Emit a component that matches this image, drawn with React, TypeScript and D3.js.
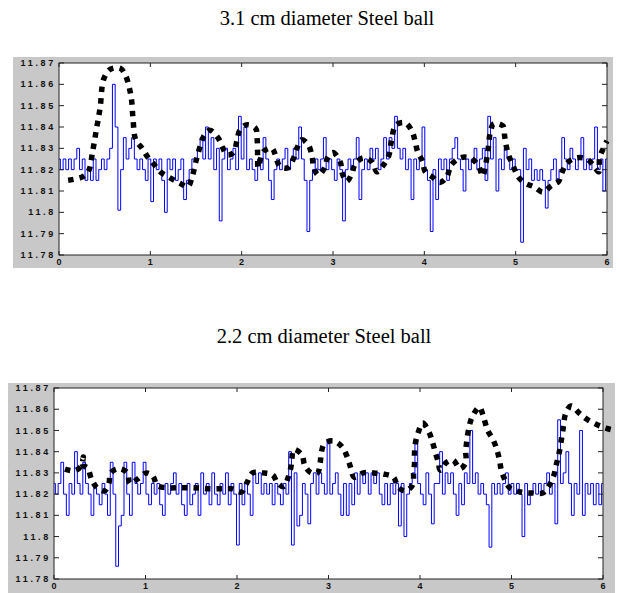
import React from "react";
import * as d3 from "d3";

const xTicks = [0, 1, 2, 3, 4, 5, 6];
const yTicks = [11.78, 11.79, 11.8, 11.81, 11.82, 11.83, 11.84, 11.85, 11.86, 11.87];

const titleTop = "3.1 cm diameter Steel ball";
const titleBottom = "2.2 cm diameter Steel ball";

// blue trace, 3.1 cm ball: 201 samples spread over 0..6 s
const signalTop = [
  11.825, 11.82, 11.825, 11.82, 11.825, 11.82, 11.825, 11.83, 11.82, 11.825,
  11.815, 11.82, 11.815, 11.825, 11.815, 11.82, 11.825, 11.82, 11.825, 11.83,
  11.86, 11.84, 11.801, 11.82, 11.835, 11.825, 11.83, 11.835, 11.825, 11.82,
  11.825, 11.82, 11.815, 11.825, 11.805, 11.825, 11.82, 11.825, 11.815, 11.8,
  11.825, 11.82, 11.825, 11.815, 11.82, 11.825, 11.806, 11.815, 11.82, 11.825,
  11.825, 11.83, 11.835, 11.825, 11.84, 11.825, 11.835, 11.82, 11.83, 11.796,
  11.825, 11.83, 11.82, 11.825, 11.83, 11.82, 11.845, 11.825, 11.84, 11.82,
  11.825, 11.82, 11.815, 11.825, 11.82, 11.835, 11.825, 11.815, 11.806, 11.82,
  11.825, 11.82, 11.825, 11.83, 11.82, 11.825, 11.83, 11.825, 11.84, 11.825,
  11.815, 11.791, 11.815, 11.82, 11.825, 11.82, 11.825, 11.835, 11.82, 11.825,
  11.82, 11.815, 11.825, 11.82, 11.796, 11.82, 11.825, 11.82, 11.825, 11.835,
  11.806, 11.82, 11.825, 11.82, 11.83, 11.825, 11.83, 11.82, 11.825, 11.835,
  11.825, 11.835, 11.83, 11.845, 11.83, 11.825, 11.83, 11.82, 11.825, 11.806,
  11.825, 11.82, 11.825, 11.84, 11.82, 11.815, 11.791, 11.82, 11.806, 11.825,
  11.82, 11.825, 11.815, 11.825, 11.83, 11.835, 11.825, 11.82, 11.81, 11.825,
  11.82, 11.825, 11.83, 11.82, 11.825, 11.83, 11.815, 11.845, 11.825, 11.835,
  11.81, 11.825, 11.82, 11.83, 11.825, 11.82, 11.825, 11.82, 11.82, 11.786,
  11.83, 11.82, 11.825, 11.815, 11.82, 11.815, 11.82, 11.815, 11.802, 11.815,
  11.82, 11.825, 11.815, 11.82, 11.835, 11.825, 11.82, 11.83, 11.825, 11.82,
  11.825, 11.835, 11.82, 11.825, 11.82, 11.825, 11.84, 11.82, 11.825, 11.81, 11.825,
];

// dotted fit, 3.1 cm ball: [time, value]
const fitTop: [number, number][] = [
  [0.1, 11.815], [0.25, 11.8165], [0.32, 11.819], [0.37, 11.829], [0.41, 11.839],
  [0.45, 11.849], [0.49, 11.8625], [0.56, 11.867], [0.67, 11.8675], [0.73, 11.864],
  [0.79, 11.854], [0.81, 11.844], [0.84, 11.834], [0.91, 11.83], [0.97, 11.826],
  [1.03, 11.823], [1.11, 11.819], [1.22, 11.816], [1.33, 11.8135], [1.41, 11.812],
  [1.46, 11.817], [1.5, 11.824], [1.55, 11.8315], [1.59, 11.836], [1.65, 11.8385],
  [1.74, 11.835], [1.79, 11.8305], [1.84, 11.827], [1.91, 11.828], [1.95, 11.834],
  [1.98, 11.8385], [2.05, 11.841], [2.15, 11.8395], [2.17, 11.834], [2.175, 11.8255],
  [2.18, 11.821], [2.24, 11.8285], [2.33, 11.83], [2.42, 11.8215], [2.51, 11.821],
  [2.57, 11.8255], [2.61, 11.8305], [2.66, 11.834], [2.73, 11.8315], [2.77, 11.8265],
  [2.79, 11.821], [2.84, 11.8175], [2.91, 11.821], [2.94, 11.8255], [3.0, 11.828],
  [3.08, 11.8235], [3.1, 11.8185], [3.15, 11.8145], [3.21, 11.8185], [3.24, 11.8225],
  [3.33, 11.8255], [3.43, 11.8235], [3.48, 11.819], [3.55, 11.822], [3.61, 11.8265],
  [3.64, 11.8335], [3.69, 11.841], [3.79, 11.842], [3.87, 11.8375], [3.9, 11.833],
  [3.93, 11.828], [3.98, 11.824], [4.01, 11.819], [4.09, 11.8165], [4.17, 11.814],
  [4.25, 11.817], [4.29, 11.822], [4.39, 11.8255], [4.5, 11.8255], [4.59, 11.822],
  [4.64, 11.817], [4.67, 11.822], [4.7, 11.83], [4.72, 11.837], [4.76, 11.8415],
  [4.86, 11.8405], [4.88, 11.8355], [4.9, 11.8305], [4.93, 11.826], [4.98, 11.821],
  [5.03, 11.8165], [5.11, 11.8135], [5.2, 11.812], [5.3, 11.8095], [5.39, 11.8125],
  [5.47, 11.8145], [5.51, 11.819], [5.56, 11.823], [5.66, 11.8255], [5.78, 11.825],
  [5.86, 11.8215], [5.91, 11.819], [5.92, 11.8255], [5.96, 11.83], [6.0, 11.8335],
];

// blue trace, 2.2 cm ball: 201 samples spread over 0..6 s
const signalBottom = [
  11.825, 11.82, 11.825, 11.835, 11.82, 11.81, 11.825, 11.82, 11.84, 11.825,
  11.82, 11.835, 11.825, 11.82, 11.81, 11.825, 11.82, 11.815, 11.825, 11.82,
  11.81, 11.835, 11.82, 11.786, 11.805, 11.81, 11.835, 11.82, 11.81, 11.835,
  11.825, 11.82, 11.825, 11.835, 11.82, 11.815, 11.825, 11.82, 11.825, 11.815,
  11.81, 11.825, 11.82, 11.825, 11.83, 11.82, 11.825, 11.815, 11.81, 11.825,
  11.815, 11.82, 11.825, 11.81, 11.83, 11.82, 11.825, 11.815, 11.83, 11.82,
  11.815, 11.825, 11.82, 11.83, 11.815, 11.825, 11.82, 11.796, 11.825, 11.815,
  11.825, 11.82, 11.81, 11.83, 11.825, 11.83, 11.82, 11.825, 11.82, 11.825,
  11.815, 11.825, 11.82, 11.815, 11.825, 11.82, 11.84, 11.796, 11.83, 11.805,
  11.81, 11.825, 11.82, 11.806, 11.825, 11.83, 11.82, 11.83, 11.825, 11.82,
  11.845, 11.82, 11.825, 11.83, 11.82, 11.81, 11.825, 11.81, 11.825, 11.815,
  11.83, 11.82, 11.83, 11.825, 11.83, 11.82, 11.83, 11.825, 11.83, 11.82,
  11.815, 11.825, 11.815, 11.825, 11.82, 11.825, 11.805, 11.825, 11.8, 11.82,
  11.825, 11.83, 11.845, 11.825, 11.82, 11.815, 11.83, 11.82, 11.806, 11.825,
  11.825, 11.84, 11.82, 11.83, 11.825, 11.83, 11.82, 11.81, 11.825, 11.815,
  11.83, 11.825, 11.85, 11.825, 11.83, 11.82, 11.825, 11.82, 11.815, 11.795,
  11.825, 11.82, 11.825, 11.82, 11.825, 11.83, 11.82, 11.825, 11.82, 11.825,
  11.82, 11.8, 11.825, 11.815, 11.82, 11.825, 11.82, 11.825, 11.82, 11.825,
  11.83, 11.82, 11.825, 11.806, 11.855, 11.825, 11.83, 11.84, 11.825, 11.81,
  11.825, 11.82, 11.85, 11.81, 11.825, 11.82, 11.825, 11.815, 11.825, 11.815, 11.825,
];

// dotted fit, 2.2 cm ball: [time, value]
const fitBottom: [number, number][] = [
  [0.12, 11.8318], [0.23, 11.831], [0.3, 11.8335], [0.32, 11.8375], [0.31, 11.834],
  [0.37, 11.832], [0.41, 11.827], [0.47, 11.823], [0.55, 11.8215], [0.6, 11.825],
  [0.62, 11.83], [0.71, 11.832], [0.8, 11.83], [0.83, 11.825], [0.91, 11.827],
  [1.01, 11.83], [1.08, 11.8285], [1.13, 11.824], [1.24, 11.823], [1.36, 11.823],
  [1.48, 11.823], [1.6, 11.8228], [1.71, 11.8225], [1.83, 11.8225], [1.94, 11.8225],
  [2.05, 11.821], [2.11, 11.8255], [2.17, 11.83], [2.28, 11.83], [2.39, 11.829],
  [2.44, 11.8255], [2.51, 11.8235], [2.56, 11.828], [2.59, 11.833], [2.6, 11.837],
  [2.62, 11.841], [2.71, 11.8385], [2.74, 11.8335], [2.81, 11.83], [2.88, 11.83],
  [2.91, 11.835], [2.92, 11.8393], [2.96, 11.844], [3.06, 11.845], [3.15, 11.8422],
  [3.2, 11.838], [3.24, 11.8328], [3.28, 11.828], [3.38, 11.83], [3.49, 11.83],
  [3.6, 11.8295], [3.71, 11.828], [3.76, 11.8233], [3.84, 11.8215], [3.92, 11.8243],
  [3.93, 11.83], [3.94, 11.8345], [3.94, 11.8393], [3.95, 11.844], [3.98, 11.849],
  [4.03, 11.8535], [4.1, 11.849], [4.14, 11.844], [4.17, 11.8393], [4.2, 11.835],
  [4.22, 11.8313], [4.29, 11.835], [4.36, 11.836], [4.44, 11.832], [4.5, 11.835],
  [4.5, 11.84], [4.51, 11.8445], [4.55, 11.854], [4.6, 11.8587], [4.65, 11.861],
  [4.69, 11.857], [4.74, 11.85], [4.8, 11.8455], [4.84, 11.841], [4.87, 11.8357],
  [4.89, 11.831], [4.93, 11.8266], [4.98, 11.823], [5.1, 11.821], [5.23, 11.8205],
  [5.34, 11.8205], [5.4, 11.8233], [5.46, 11.8285], [5.49, 11.834], [5.52, 11.8393],
  [5.55, 11.847], [5.57, 11.8525], [5.59, 11.8577], [5.65, 11.8615], [5.74, 11.8582],
  [5.82, 11.8554], [5.92, 11.853], [6.03, 11.8511], [6.13, 11.85],
];

type Box = { x0: number; x1: number; y0: number; y1: number };

function Panel(props: {
  title: string;
  titleY: number;
  titleX: number;
  frame: Box;
  plot: Box;
  signal: number[];
  fit: [number, number][];
}) {
  const { title, titleY, titleX, frame, plot, signal, fit } = props;
  const x = d3.scaleLinear().domain([0, 6]).range([plot.x0, plot.x1]);
  const y = d3.scaleLinear().domain([11.78, 11.87]).range([plot.y1, plot.y0]);
  const sampleTime = d3.scaleLinear().domain([0, signal.length - 1]).range([0, 6]);

  // quantised sensor reading, drawn as a staircase
  const bluePath = d3
    .line<number>()
    .x((d, i) => x(sampleTime(i)))
    .y((d) => y(d))
    .curve(d3.curveStep)(signal);

  const dottedPath = d3
    .line<[number, number]>()
    .x((d) => x(d[0]))
    .y((d) => y(d[1]))
    .curve(d3.curveCatmullRom.alpha(0.5))(fit);

  const fmt = (v: number) => String(+v.toFixed(2));
  const tickFont = {
    fontFamily: "'Liberation Sans', Arial, sans-serif",
    fontSize: 9,
    fontWeight: 700,
    letterSpacing: 2.7,
    fill: "#111",
  };

  return (
    <g>
      <text
        x={titleX}
        y={titleY}
        textAnchor="middle"
        fontFamily="'Liberation Serif', 'Times New Roman', serif"
        fontSize={20.5}
        fill="#000"
      >
        {title}
      </text>
      <rect
        x={frame.x0}
        y={frame.y0}
        width={frame.x1 - frame.x0}
        height={frame.y1 - frame.y0}
        fill="#c8c8c8"
      />
      <rect
        x={plot.x0}
        y={plot.y0}
        width={plot.x1 - plot.x0}
        height={plot.y1 - plot.y0}
        fill="#fff"
      />
      <path d={bluePath || ""} fill="none" stroke="#0000ff" strokeWidth={1} />
      <path
        d={dottedPath || ""}
        fill="none"
        stroke="#000"
        strokeWidth={5.5}
        strokeDasharray="5.5 6"
      />
      <rect
        x={plot.x0}
        y={plot.y0}
        width={plot.x1 - plot.x0}
        height={plot.y1 - plot.y0}
        fill="none"
        stroke="#222"
        strokeWidth={1}
      />
      {xTicks.map((t) => (
        <g key={"x" + t}>
          <line x1={x(t)} x2={x(t)} y1={plot.y1} y2={plot.y1 - 4} stroke="#222" />
          <line x1={x(t)} x2={x(t)} y1={plot.y0} y2={plot.y0 + 4} stroke="#222" />
          <text x={x(t) + 1.3} y={plot.y1 + 10} textAnchor="middle" {...tickFont}>
            {t}
          </text>
        </g>
      ))}
      {yTicks.map((v) => (
        <g key={"y" + v}>
          <line x1={plot.x0} x2={plot.x0 + 5} y1={y(v)} y2={y(v)} stroke="#222" />
          <line x1={plot.x1} x2={plot.x1 - 5} y1={y(v)} y2={y(v)} stroke="#222" />
          <text x={plot.x0 - 3} y={y(v)} dy="0.35em" textAnchor="end" {...tickFont}>
            {fmt(v)}
          </text>
        </g>
      ))}
    </g>
  );
}

export default function App() {
  return (
    <div style={{ position: "absolute", left: 0, top: 0 }}>
      <svg width={620} height={593} style={{ display: "block", background: "#fff" }}>
        <Panel
          title={titleTop}
          titleX={327}
          titleY={25}
          frame={{ x0: 13, x1: 613, y0: 57, y1: 268 }}
          plot={{ x0: 59, x1: 607, y0: 63, y1: 255 }}
          signal={signalTop}
          fit={fitTop}
        />
        <Panel
          title={titleBottom}
          titleX={324}
          titleY={343}
          frame={{ x0: 8, x1: 615, y0: 383, y1: 593 }}
          plot={{ x0: 54, x1: 603, y0: 388, y1: 579 }}
          signal={signalBottom}
          fit={fitBottom}
        />
      </svg>
    </div>
  );
}
